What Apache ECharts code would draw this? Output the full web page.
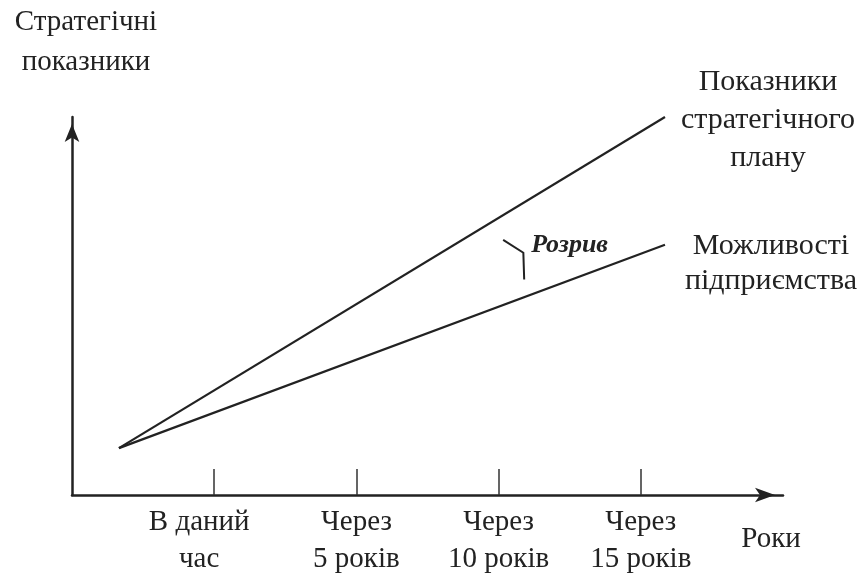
<!DOCTYPE html>
<html><head><meta charset="utf-8">
<script src="https://cdn.jsdelivr.net/npm/echarts@6/dist/echarts.min.js"></script>
<style>html,body{margin:0;padding:0;background:#fff}#c{width:861px;height:578px}</style>
</head><body><div id="c"></div>
<script>
// data
var tickYears = [0, 5, 10, 15];
var tickLabels = ['В даний\nчас', 'Через\n5 років', 'Через\n10 років', 'Через\n15 років'];
var lineYears = [-3.35, 15.85];
var planValues = [12.4, 100];
var capabilityValues = [12.4, 66.2];
var planName = 'Показники\nстратегічного\nплану';
var capabilityName = 'Можливості\nпідприємства';
var yAxisName = 'Стратегічні\nпоказники';
var xAxisName = 'Роки';
var gapName = 'Розрив';
var gapBrace = [[10.16, 67.5], [10.87, 64.1], [10.9, 57.0]];

var FONT = '"Liberation Serif", "DejaVu Serif", serif';
var chart = echarts.init(document.getElementById('c'), null, {renderer: 'canvas'});

function pairs(xs, ys) { return xs.map(function (x, i) { return [x, ys[i]]; }); }

chart.setOption({
  animation: false,
  grid: {left: 72, right: 78, top: 117, bottom: 82},
  xAxis: {
    type: 'value', min: -5, max: 20, interval: 5,
    axisLine: {show: true, onZero: false, lineStyle: {color: '#222', width: 2.5}, symbol: ['none', 'arrow'], symbolSize: [11, 20], symbolOffset: [0, -8]},
    axisTick: {show: true, inside: true, length: 26, customValues: tickYears, lineStyle: {color: '#333', width: 1.5}},
    axisLabel: {show: true, customValues: tickYears, margin: 9, color: '#222', fontFamily: FONT, fontSize: 29, lineHeight: 37,
      rich: {first: {fontFamily: FONT, fontSize: 29, lineHeight: 37, color: '#222', padding: [0, 30, 0, 0]}},
      formatter: function (v) {
        var i = tickYears.indexOf(v);
        if (i < 0) return '';
        if (i === 0) return tickLabels[0].split('\n').map(function (s) { return '{first|' + s + '}'; }).join('\n');
        return tickLabels[i];
      }},
    splitLine: {show: false}
  },
  yAxis: {
    type: 'value', min: 0, max: 100,
    axisLine: {show: true, onZero: false, lineStyle: {color: '#222', width: 2.5}, symbol: ['none', 'arrow'], symbolSize: [11, 18], symbolOffset: [0, -7]},
    axisTick: {show: false}, axisLabel: {show: false}, splitLine: {show: false}
  },
  series: [
    {type: 'line', clip: false, data: pairs(lineYears, planValues), symbol: 'none', lineStyle: {color: '#222', width: 2.2}},
    {type: 'line', clip: false, data: pairs(lineYears, capabilityValues), symbol: 'none', lineStyle: {color: '#222', width: 2.2}}
  ]
});

var p = function (pt) { return chart.convertToPixel({gridIndex: 0}, pt); };
var planEnd = p([lineYears[1], planValues[1]]);
var capEnd = p([lineYears[1], capabilityValues[1]]);
var brace = gapBrace.map(p);
var txt = {fill: '#222', font: '30px ' + FONT, align: 'center', verticalAlign: 'middle', lineHeight: 38};
chart.setOption({
  graphic: [
    {type: 'text', style: Object.assign({}, txt, {text: yAxisName, x: 86, y: 42, lineHeight: 40, font: '29px ' + FONT})},
    {type: 'text', style: Object.assign({}, txt, {text: planName, x: planEnd[0] + 103, y: planEnd[1] + 3})},
    {type: 'text', style: Object.assign({}, txt, {text: capabilityName, x: capEnd[0] + 106, y: capEnd[1] + 19, lineHeight: 35})},
    {type: 'text', style: Object.assign({}, txt, {text: xAxisName, x: 771, y: 539, font: '29px ' + FONT})},
    {type: 'text', style: {text: gapName, x: brace[0][0] + 28, y: brace[0][1] + 5, fill: '#222', font: 'italic bold 26px ' + FONT, verticalAlign: 'middle'}},
    {type: 'polyline', shape: {points: brace}, style: {stroke: '#222', lineWidth: 2, fill: null}}
  ]
});
</script></body></html>
